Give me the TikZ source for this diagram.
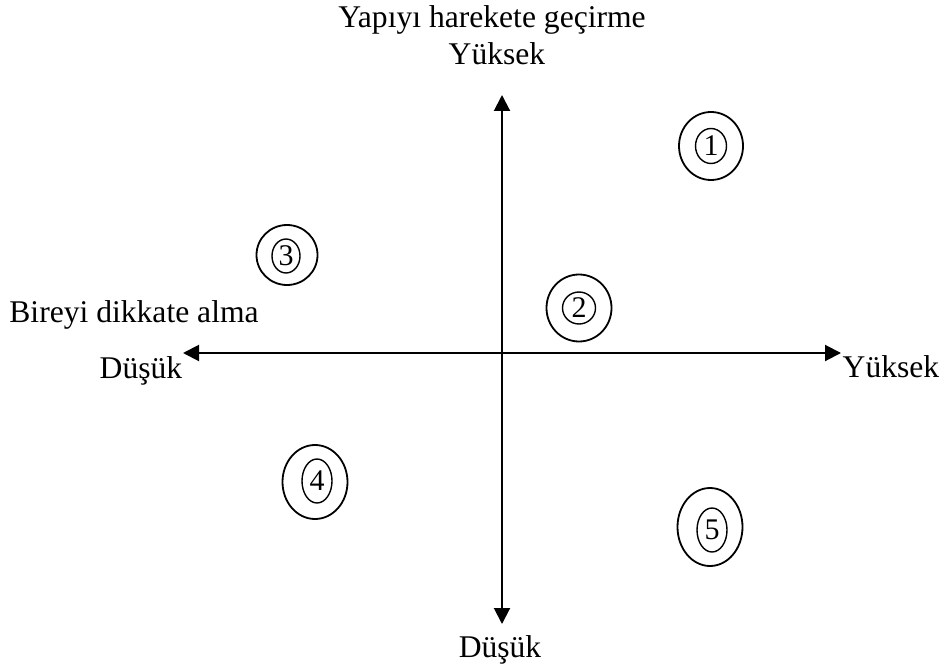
\documentclass[tikz,border=0pt]{standalone}
\usepackage{fontspec}
\setmainfont{Liberation Serif}
\usetikzlibrary{arrows.meta,shapes.geometric}
\begin{document}
\begin{tikzpicture}[x=0.5pt,y=-0.5pt,
  lbl/.style={anchor=base,inner sep=0pt,font=\fontsize{15.8pt}{19pt}\selectfont},
  axis/.style={line width=1pt,{Triangle[length=8pt,width=8pt]}-{Triangle[length=8pt,width=8pt]}},
  outerring/.style={draw,ellipse,line width=0.9pt,inner sep=0pt},
  innerring/.style={draw,ellipse,line width=0.7pt,inner sep=0pt,font=\fontsize{15pt}{18pt}\selectfont}]
\useasboundingbox (0,0) rectangle (946,668);
% axes
\coordinate (top) at (502,95);
\coordinate (bot) at (502,624);
\coordinate (lft) at (183,353);
\coordinate (rgt) at (841,353);
\draw[axis] (bot) -- (top);
\draw[axis] (lft) -- (rgt);
% labels
\node[lbl] (t1) at (492,28) {Yapıyı harekete geçirme};
\node[lbl] (t2) at (497,65) {Yüksek};
\node[lbl] (t3) at (500,657) {Düşük};
\node[lbl] (t4) at (141,378) {Düşük};
\node[lbl] (t5) at (891,377) {Yüksek};
\node[lbl] (t6) at (134,322) {Bireyi dikkate alma};
% circles
\node[outerring,minimum width=32pt,minimum height=34pt] (o1) at (711,146) {};
\node[innerring,minimum width=15.5pt,minimum height=17.5pt] (i1) at (711,146) {1};
\node[outerring,minimum width=32.5pt,minimum height=33.5pt] (o2) at (579,308) {};
\node[innerring,minimum width=16.5pt,minimum height=16pt] (i2) at (579,308) {2};
\node[outerring,minimum width=30.5pt,minimum height=30pt] (o3) at (287,255) {};
\node[innerring,minimum width=14pt,minimum height=17pt] (i3) at (286,256) {3};
\node[outerring,minimum width=32.5pt,minimum height=37pt] (o4) at (315,482) {};
\node[innerring,minimum width=15pt,minimum height=22pt] (i4) at (317,481) {4};
\node[outerring,minimum width=32.5pt,minimum height=39pt] (o5) at (710,527) {};
\node[innerring,minimum width=15pt,minimum height=22pt] (i5) at (712,530) {5};
\end{tikzpicture}
\end{document}
